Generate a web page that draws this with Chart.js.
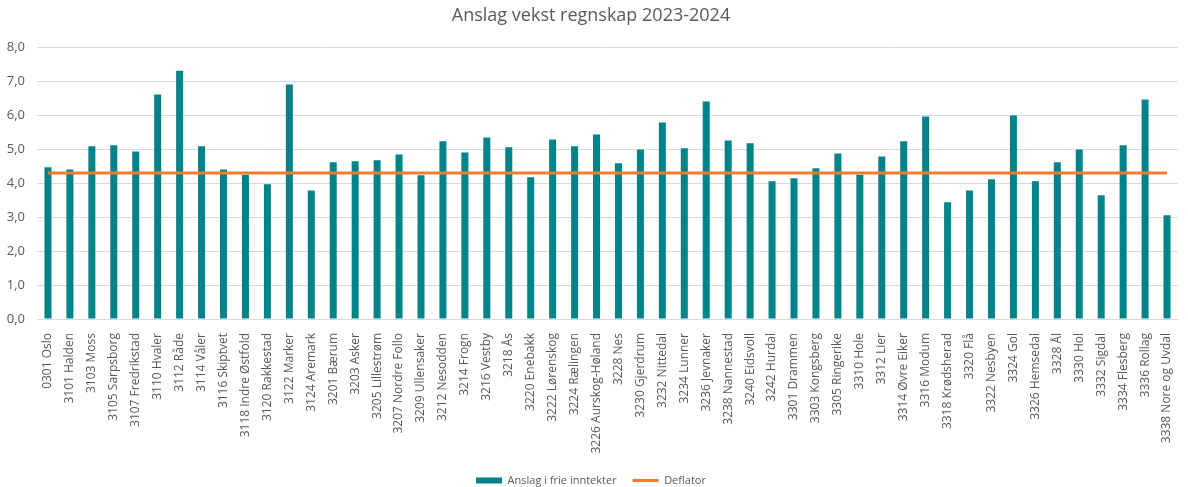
<!DOCTYPE html>
<html>
<head>
<meta charset="utf-8">
<script src="https://cdn.jsdelivr.net/npm/chart.js@4"></script>
<style>
    html, body { margin: 0; padding: 0; background: #fff; }
    #wrap { width: 1188px; height: 487px; }
</style>
</head>
<body>
<div id="wrap"><canvas id="VekstChart"></canvas></div>
<script>
const kommuner = [
    "0301 Oslo", "3101 Halden", "3103 Moss", "3105 Sarpsborg", "3107 Fredrikstad",
    "3110 Hvaler", "3112 Råde", "3114 Våler", "3116 Skiptvet", "3118 Indre Østfold",
    "3120 Rakkestad", "3122 Marker", "3124 Aremark", "3201 Bærum", "3203 Asker",
    "3205 Lillestrøm", "3207 Nordre Follo", "3209 Ullensaker", "3212 Nesodden", "3214 Frogn",
    "3216 Vestby", "3218 Ås", "3220 Enebakk", "3222 Lørenskog", "3224 Rælingen",
    "3226 Aurskog-Høland", "3228 Nes", "3230 Gjerdrum", "3232 Nittedal", "3234 Lunner",
    "3236 Jevnaker", "3238 Nannestad", "3240 Eidsvoll", "3242 Hurdal", "3301 Drammen",
    "3303 Kongsberg", "3305 Ringerike", "3310 Hole", "3312 Lier", "3314 Øvre Eiker",
    "3316 Modum", "3318 Krødsherad", "3320 Flå", "3322 Nesbyen", "3324 Gol",
    "3326 Hemsedal", "3328 Ål", "3330 Hol", "3332 Sigdal", "3334 Flesberg",
    "3336 Rollag", "3338 Nore og Uvdal"
];

const frieInntekter = [
    4.47, 4.41, 5.09, 5.12, 4.94,
    6.62, 7.32, 5.09, 4.41, 4.25,
    3.97, 6.91, 3.79, 4.62, 4.65,
    4.68, 4.85, 4.24, 5.24, 4.91,
    5.35, 5.06, 4.18, 5.29, 5.09,
    5.44, 4.59, 5.00, 5.79, 5.03,
    6.41, 5.26, 5.18, 4.06, 4.15,
    4.44, 4.88, 4.25, 4.79, 5.24,
    5.97, 3.44, 3.79, 4.12, 6.00,
    4.06, 4.62, 5.00, 3.65, 5.12,
    6.47, 3.06
];

const deflator = 4.3;

const yTicks = [0, 1, 2, 3, 4, 5, 6, 7, 8];

const textColor = "#595959";
const gridColor = "#D9D9D9";
const fontFamily = "'Open Sans', sans-serif";

new Chart(document.querySelector('#VekstChart'), {
    data: {
        labels: kommuner,
        datasets: [{
            type: 'bar',
            label: 'Anslag i frie inntekter',
            data: frieInntekter,
            backgroundColor: "#00848A",
            barPercentage: 0.32,
            categoryPercentage: 1.0,
            order: 1
        }, {
            type: 'line',
            label: 'Deflator',
            data: kommuner.map(() => deflator),
            borderColor: "#ED7D31",
            backgroundColor: "#ED7D31",
            borderWidth: 3,
            pointRadius: 0,
            pointHoverRadius: 0,
            order: 0
        }]
    },
    options: {
        responsive: true,
        maintainAspectRatio: false,
        animation: false,
        layout: {
            padding: { left: 4, right: 10, top: 0, bottom: -9 }
        },
        plugins: {
            title: {
                display: true,
                text: 'Anslag vekst regnskap 2023-2024',
                color: textColor,
                font: { family: fontFamily, size: 18, weight: 'normal' },
                padding: { top: 5, bottom: 21 }
            },
            legend: {
                position: 'bottom',
                labels: {
                    color: textColor,
                    font: { family: fontFamily, size: 11 },
                    usePointStyle: true,
                    pointStyleWidth: 26,
                    boxHeight: 6,
                    padding: 16,
                    sort: (a, b) => a.datasetIndex - b.datasetIndex,
                    generateLabels: (chart) => {
                        const items = Chart.defaults.plugins.legend.labels.generateLabels(chart);
                        items.forEach(it => {
                            if (it.datasetIndex === 0) {
                                it.pointStyle = 'rect';
                                it.lineWidth = 0;
                            } else {
                                it.pointStyle = 'line';
                                it.lineWidth = 3;
                                it.strokeStyle = "#ED7D31";
                            }
                        });
                        return items;
                    }
                }
            },
            tooltip: { enabled: false }
        },
        scales: {
            x: {
                grid: { display: false },
                border: { color: gridColor },
                ticks: {
                    color: textColor,
                    font: { family: fontFamily, size: 12 },
                    minRotation: 90,
                    maxRotation: 90,
                    autoSkip: false,
                    padding: 6
                },
                afterFit: (scale) => { scale.height = 140; }
            },
            y: {
                min: 0,
                max: 8,
                afterBuildTicks: (scale) => { scale.ticks = yTicks.map(v => ({ value: v })); },
                grid: { color: gridColor, drawTicks: false },
                border: { display: false },
                ticks: {
                    color: textColor,
                    font: { family: fontFamily, size: 13 },
                    padding: 12,
                    callback: (v) => v.toFixed(1).replace('.', ',')
                },
                afterFit: (scale) => { scale.width = 33; }
            }
        }
    }
});
</script>
</body>
</html>
